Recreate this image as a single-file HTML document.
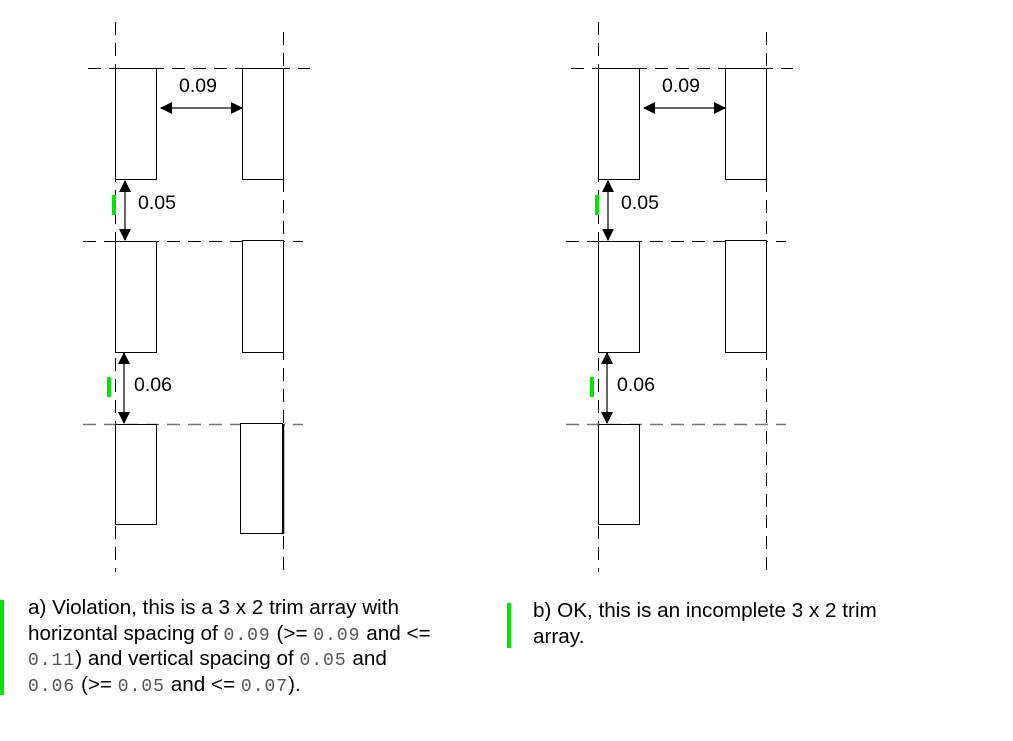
<!DOCTYPE html>
<html><head><meta charset="utf-8"><style>
body{margin:0;background:#fff;width:1013px;height:741px;overflow:hidden;position:relative;font-family:"Liberation Sans",sans-serif;}
.t{position:absolute;font-size:20.7px;line-height:25.5px;color:#000;white-space:nowrap;}
.m{font-family:"Liberation Mono",monospace;font-size:18px;color:#555;letter-spacing:1px;line-height:0;}
.g{position:absolute;background:#00e600;width:4px;}
</style></head><body>
<svg width="1013" height="741" style="position:absolute;left:0;top:0">
<defs>
<marker id="a" markerWidth="12" markerHeight="12" refX="11" refY="6" orient="auto-start-reverse" markerUnits="userSpaceOnUse"><path d="M0,0 L12,6 L0,12 z" fill="#000"/></marker>
<g id="p">
<g stroke="#000" stroke-width="1" stroke-dasharray="13,8" fill="none">
<line x1="115.5" y1="22" x2="115.5" y2="572"/>
<line x1="283.5" y1="32" x2="283.5" y2="572"/>
<line x1="88" y1="68.5" x2="310" y2="68.5"/>
<line x1="83" y1="241.5" x2="303" y2="241.5"/>
<line x1="83" y1="424.5" x2="303" y2="424.5" stroke="#777" stroke-width="1.5"/>
</g>
<g fill="#fff" stroke="#000" stroke-width="1">
<rect x="115.5" y="68.5" width="41" height="111"/>
<rect x="242.5" y="68.5" width="41" height="111"/>
<rect x="115.5" y="241.5" width="41" height="111"/>
<rect x="242.5" y="240.5" width="41" height="112"/>
<rect x="115.5" y="424.5" width="41" height="100"/>
</g>
<g stroke="#666" stroke-width="2">
<line x1="161" y1="108" x2="242" y2="108" marker-end="url(#a)" marker-start="url(#a)"/>
<line x1="125" y1="181" x2="125" y2="240" marker-end="url(#a)" marker-start="url(#a)"/>
<line x1="124" y1="353" x2="124" y2="423" marker-end="url(#a)" marker-start="url(#a)"/>
</g>
<g font-family="Liberation Sans, sans-serif" font-size="19.5" fill="#000">
<text x="179" y="92">0.09</text>
<text x="138" y="209">0.05</text>
<text x="134" y="391">0.06</text>
</g>
<rect x="112" y="195" width="4" height="20" fill="#00e600"/>
<rect x="107" y="377" width="4" height="20" fill="#00e600"/>
</g>
</defs>
<use href="#p"/>
<rect x="240.5" y="423.5" width="42" height="110" fill="#fff" stroke="#000"/>
<line x1="283.5" y1="424" x2="283.5" y2="534" stroke="#000" stroke-width="1.5"/>
<use href="#p" x="483"/>
</svg>
<div class="g" style="left:0;top:600px;height:95px"></div>
<div class="t" style="left:28px;top:595px">a) Violation, this is a 3 x 2 trim array with<br>horizontal spacing of <span class="m">0.09</span> (&gt;= <span class="m">0.09</span> and &lt;=<br><span class="m">0.11</span>) and vertical spacing of <span class="m">0.05</span> and<br><span class="m">0.06</span> (&gt;= <span class="m">0.05</span> and &lt;= <span class="m">0.07</span>).</div>
<div class="g" style="left:507px;top:603px;height:45px"></div>
<div class="t" style="left:533px;top:598px">b) OK, this is an incomplete 3 x 2 trim<br>array.</div>
</body></html>
